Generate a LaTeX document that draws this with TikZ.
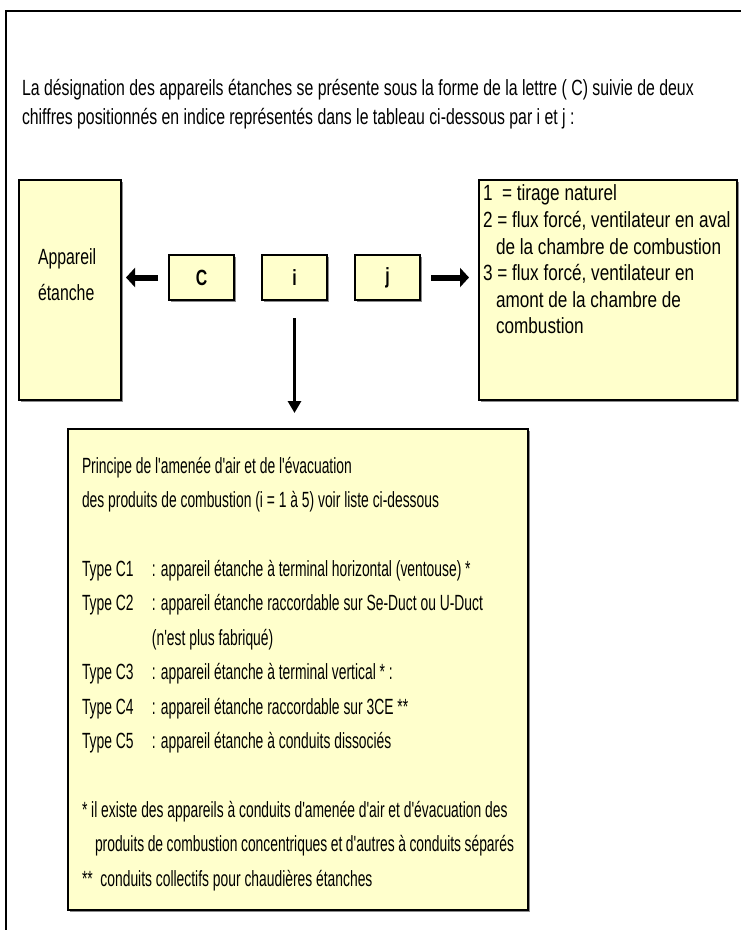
\documentclass[tikz,border=0pt]{standalone}
\usepackage{fontspec}
\setmainfont{Liberation Sans}[FakeStretch=0.72, Ligatures=TeXOff]
\newfontfamily\condfont{Liberation Sans}[FakeStretch=0.78, Ligatures=TeXOff]
\newfontfamily\princfont{Liberation Sans}[FakeStretch=0.63, Ligatures=TeXOff]
\usepackage{tikz}
\usetikzlibrary{positioning, arrows.meta, shadows}
\definecolor{paleyellow}{RGB}{255,255,204}
\tikzset{
	every node/.append style={
		font=\fontsize{22}{29}\selectfont,
		outer sep=0pt,
	},
	panel/.append style={
		draw,
		line width=1.5pt,
		fill=paleyellow,
		drop shadow={shadow xshift=2pt, shadow yshift=-2pt, fill=black!45, opacity=1},
		inner sep=0pt,
	},
	code/.append style={
		panel,
		minimum width=65pt,
		minimum height=45pt,
		font=\fontsize{22}{29}\selectfont\bfseries,
	},
	txt/.append style={
		align=left,
		inner sep=0pt,
	},
	fatarrow/.append style={
		line width=6pt,
		-{Triangle[length=9pt, width=19pt]},
	},
	thinarrow/.append style={
		line width=3pt,
		-{Triangle[length=12pt, width=13pt]},
	},
}

\begin{document}
\begin{tikzpicture}[x=1pt, y=-1pt]
		\useasboundingbox (0,0) rectangle (741,930);
		\draw[line width=2.5pt] (6,930) -- (6,11) -- (741,11);

		\node(intro)[txt, anchor=north west] at (22,79) {La désignation des appareils étanches se présente sous la forme de la lettre ( C) suivie de deux\\chiffres positionnés en indice représentés dans le tableau ci-dessous par i et j :};

		\node(app)[panel, minimum width=102pt, minimum height=220pt, font=\fontsize{22}{36}\selectfont] at (70,290) {\parbox[c][220pt][t]{64pt}{\vspace*{69pt}Appareil\\étanche}};

		\node(C)[code, right=48pt of app, yshift=12.5pt]{C};
		\node(i)[code, right=28pt of C]{i};
		\node(j)[code, right=28pt of i]{j};

		\node(cond)[panel, right=59pt of j, yshift=-12.5pt, inner xsep=4pt, font=\condfont\fontsize{22}{26.6}\selectfont]{\parbox[c][220pt][t]{250pt}{\raggedright\vspace*{5pt}%
			1~~= tirage naturel\\
			2 = flux forcé, ventilateur en aval\\
			\hspace*{13pt}de la chambre de combustion\\
			3 = flux forcé, ventilateur en\\
			\hspace*{13pt}amont de la chambre de\\
			\hspace*{13pt}combustion}};

		\node(princ)[panel, below=129pt of i, xshift=3.5pt, inner xsep=14pt, font=\princfont\fontsize{22}{34.4}\selectfont]{\parbox[c][481pt][t]{432pt}{\raggedright\vspace*{28pt}%
			Principe de l'amenée d'air et de l'évacuation\\
			des produits de combustion (i = 1 à 5) voir liste ci-dessous\\[\baselineskip]
			\makebox[70pt][l]{Type C1}: appareil étanche à terminal horizontal (ventouse) *\\
			\makebox[70pt][l]{Type C2}: appareil étanche raccordable sur Se-Duct ou U-Duct\\
			\hspace*{70pt}(n'est plus fabriqué)\\
			\makebox[70pt][l]{Type C3}: appareil étanche à terminal vertical * :\\
			\makebox[70pt][l]{Type C4}: appareil étanche raccordable sur 3CE **\\
			\makebox[70pt][l]{Type C5}: appareil étanche à conduits dissociés\\[\baselineskip]
			* il existe des appareils à conduits d'amenée d'air et d'évacuation des\\
			\hspace*{13pt}produits de combustion concentriques et d'autres à conduits séparés\\
			\relax**~~conduits collectifs pour chaudières étanches}};

		\draw[fatarrow, shorten <=11pt, shorten >=5pt] (C.west) -- (C.west -| app.east);
		\draw[fatarrow, shorten <=11pt, shorten >=10pt] (j.east) -- (j.east -| cond.west);
		\draw[thinarrow, shorten <=18pt, shorten >=16pt] (i.south) -- (princ.north -| i.south);
\end{tikzpicture}
\end{document}
